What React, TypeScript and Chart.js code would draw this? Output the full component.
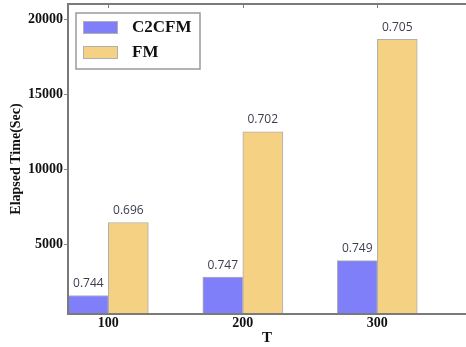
import React, { useEffect, useRef } from "react";
import { Chart, registerables } from "chart.js";

Chart.register(...registerables);

const tValues = [100, 200, 300];
const c2cfmTime = [1630, 2850, 3950];
const fmTime = [6480, 12500, 18650];
const c2cfmAcc = ["0.744", "0.747", "0.749"];
const fmAcc = ["0.696", "0.702", "0.705"];
const yTicks = [5000, 10000, 15000, 20000];
const seriesNames = ["C2CFM", "FM"];
const seriesColors = ["#7f7ff9", "#f5d183"];

const frameAndLabels = {
  id: "frameAndLabels",
  afterDatasetsDraw(chart: any) {
    const ctx = chart.ctx;
    const a = chart.chartArea;
    ctx.save();
    // frame (top, left, bottom) - right side lies outside the picture
    ctx.fillStyle = "#7a7a7a";
    const L = Math.round(a.left);
    const T = Math.round(a.top);
    const B = Math.round(a.bottom);
    ctx.fillRect(L - 1, T - 1, chart.width - L + 1, 2);
    ctx.fillRect(L - 1, T - 1, 2, B - T + 2);
    ctx.fillRect(L - 1, B - 1, chart.width - L + 1, 2);
    // top inward ticks
    const xs = chart.scales.x;
    tValues.forEach((t) => {
      const px = Math.round(xs.getPixelForValue(t));
      ctx.fillRect(px, T, 1, 4);
    });
    // value labels
    ctx.font = "12px 'Open Sans'";
    ctx.fillStyle = "#3a3d4d";
    ctx.textAlign = "center";
    ctx.textBaseline = "middle";
    const accs = [c2cfmAcc, fmAcc];
    chart.data.datasets.forEach((ds: any, di: number) => {
      const meta = chart.getDatasetMeta(di);
      meta.data.forEach((bar: any, i: number) => {
        ctx.fillText(accs[di][i], bar.x, bar.y - 12);
      });
    });
    // legend
    const lx = a.left + 8;
    const ly = a.top + 9;
    const lw = 124;
    const lh = 56;
    ctx.fillStyle = "#ffffff";
    ctx.fillRect(lx, ly, lw, lh);
    ctx.strokeStyle = "#9a9a9a";
    ctx.lineWidth = 1.5;
    ctx.strokeRect(lx, ly, lw, lh);
    ctx.font = "bold 17px 'Liberation Serif'";
    ctx.textAlign = "left";
    chart.data.datasets.forEach((ds: any, di: number) => {
      const sy = ly + 8 + di * 25;
      ctx.fillStyle = ds.backgroundColor;
      ctx.fillRect(lx + 7, sy, 35, 13);
      ctx.strokeStyle = "#b0b0b0";
      ctx.lineWidth = 1;
      ctx.strokeRect(lx + 7.5, sy + 0.5, 34, 12);
      ctx.fillStyle = "#111111";
      ctx.fillText(ds.label, lx + 56, sy + 7);
    });
    ctx.restore();
  },
};

export default function App() {
  const ref = useRef<HTMLCanvasElement | null>(null);
  useEffect(() => {
    document.body.style.margin = "0";
    const canvas = ref.current!;
    const chart = new Chart(canvas, {
      type: "bar",
      data: {
        datasets: [
          {
            label: seriesNames[0],
            data: tValues.map((t, i) => ({ x: t, y: c2cfmTime[i] })),
            backgroundColor: seriesColors[0],
            borderColor: "#b0b0b0",
            borderWidth: 1,
            barThickness: 40,
          },
          {
            label: seriesNames[1],
            data: tValues.map((t, i) => ({ x: t, y: fmTime[i] })),
            backgroundColor: seriesColors[1],
            borderColor: "#b0b0b0",
            borderWidth: 1,
            barThickness: 40,
          },
        ],
      },
      plugins: [frameAndLabels],
      options: {
        animation: false,
        responsive: false,
        devicePixelRatio: 1,
        layout: { padding: { left: 0, top: 4, right: 0, bottom: 0 } },
        plugins: { legend: { display: false }, tooltip: { enabled: false } },
        scales: {
          x: {
            type: "linear",
            min: 70,
            max: 366,
            offset: false,
            grid: { display: false, drawTicks: false, offset: false },
            border: { display: false },
            afterBuildTicks: (s: any) => {
              s.ticks = tValues.map((v) => ({ value: v }));
            },
            afterFit: (s: any) => {
              s.height = 33;
              s.paddingLeft = 0;
              s.paddingRight = 0;
            },
            ticks: {
              padding: 1,
              color: "#111111",
              callback: (v: any) => String(v),
              font: { family: "'Liberation Serif'", size: 14, weight: "bold" },
            },
            title: {
              display: true,
              text: "T",
              color: "#111111",
              padding: { top: 0, bottom: 0 },
              font: { family: "'Liberation Serif'", size: 15, weight: "bold" },
            },
          },
          y: {
            min: 400,
            max: 21000,
            grid: { drawOnChartArea: false, tickLength: 4, color: "#8a8a8a" },
            border: { display: false },
            afterBuildTicks: (s: any) => {
              s.ticks = yTicks.map((v) => ({ value: v }));
            },
            afterFit: (s: any) => {
              s.width = 68;
              s.paddingTop = 0;
              s.paddingBottom = 0;
            },
            ticks: {
              padding: 1,
              color: "#111111",
              callback: (v: any) => String(v),
              font: { family: "'Liberation Serif'", size: 14, weight: "bold" },
            },
            title: {
              display: true,
              text: "Elapsed Time(Sec)",
              color: "#111111",
              padding: { top: 8, bottom: 0 },
              font: { family: "'Liberation Serif'", size: 14, weight: "bold" },
            },
          },
        },
      },
    } as any);
    return () => chart.destroy();
  }, []);
  return (
    <div style={{ position: "absolute", left: 0, top: 0, width: 466, height: 347, overflow: "hidden", background: "#fff" }}>
      <canvas ref={ref} width={466} height={347} style={{ width: 466, height: 347, display: "block" }} />
    </div>
  );
}
